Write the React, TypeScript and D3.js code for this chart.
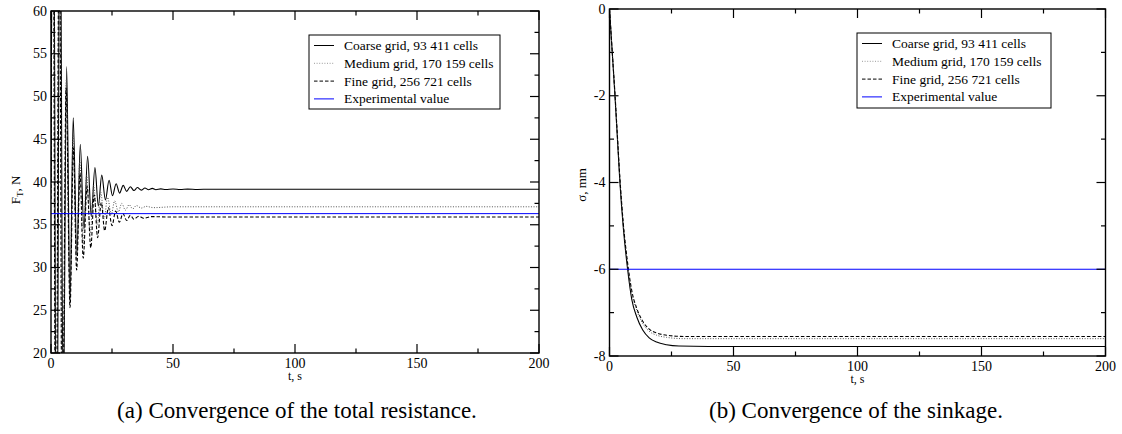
import React from "react";
import * as d3 from "d3";

// ---------- DATA ----------
type P = [number, number];

// (a) total resistance F_T [N] vs t [s]
const resCoarse: P[] = [
  [0, 40], [0.9, 90], [2.3, -5], [3.7, 80], [5.0, 12], [6.4, 53.5], [7.8, 26], [9.1, 47.5],
  [10.6, 31.5], [12.0, 44.4], [13.5, 34.5], [15.0, 43.0], [16.5, 36.0], [18.0, 41.7],
  [19.4, 37.2], [20.8, 40.8], [22.3, 37.9], [23.8, 40.2], [25.2, 38.4], [26.7, 39.8],
  [28.1, 38.7], [29.6, 39.6], [31.0, 38.9], [32.5, 39.45], [34.0, 39.0], [35.4, 39.35],
  [37.0, 39.05], [38.5, 39.3], [40.0, 39.1], [41.5, 39.25], [43.0, 39.1], [45.0, 39.2],
  [47.0, 39.12], [50.0, 39.18], [53.0, 39.12], [56.0, 39.17], [60.0, 39.13], [65.0, 39.16],
  [70.0, 39.15], [200, 39.15],
];
const resMedium: P[] = [
  [0, 39], [0.8, 88], [2.1, -3], [3.5, 78], [4.8, 8], [6.3, 52], [7.7, 27], [9.1, 45.5],
  [10.4, 31], [11.8, 42.5], [13.2, 32.7], [14.6, 40.8], [16.1, 34], [17.5, 39.6],
  [19.0, 35], [20.4, 38.8], [21.8, 35.7], [23.2, 38.2], [24.7, 36.2], [26.1, 37.8],
  [27.6, 36.5], [29.0, 37.5], [30.5, 36.7], [32.0, 37.35], [33.5, 36.85], [35.0, 37.25],
  [37.0, 36.95], [39.0, 37.15], [42.0, 37.0], [50.0, 37.1], [200, 37.1],
];
const resFine: P[] = [
  [0, 38], [0.7, 85], [2.0, 0], [3.4, 75], [4.6, 5], [6.2, 51], [7.8, 25.3], [9.2, 44],
  [10.5, 29.7], [11.9, 41], [13.2, 31.1], [14.8, 39.5], [16.3, 32.3], [17.7, 38.5],
  [19.1, 33.5], [20.6, 37.6], [22.0, 34.3], [23.5, 37.0], [25.0, 34.9], [26.5, 36.6],
  [28.0, 35.3], [29.5, 36.3], [31.0, 35.5], [32.5, 36.1], [34.0, 35.65], [36.0, 36.0],
  [38.0, 35.75], [41.0, 35.95], [50.0, 35.9], [200, 35.9],
];
const resExperimental = 36.3;

// (b) sinkage sigma [mm] vs t [s]
const sinkCoarse: P[] = [
  [0, 0], [1, -0.9], [2.2, -2], [3.2, -3], [4.2, -4], [5.5, -5], [7.3, -6], [9, -6.7],
  [11, -7.1], [13.4, -7.4], [16, -7.58], [19, -7.68], [23, -7.74], [28, -7.77], [40, -7.78], [200, -7.78],
];
const sinkMedium: P[] = [
  [0, 0], [1, -0.9], [2.2, -1.97], [3.2, -2.95], [4.2, -3.93], [5.5, -4.92], [7.3, -5.9], [9, -6.55],
  [11, -6.95], [13.4, -7.25], [16, -7.43], [19, -7.52], [23, -7.57], [30, -7.6], [200, -7.6],
];
const sinkFine: P[] = [
  [0, 0], [1, -0.9], [2.2, -1.95], [3.2, -2.93], [4.2, -3.9], [5.5, -4.9], [7.3, -5.85], [9, -6.5],
  [11, -6.9], [13.4, -7.2], [16, -7.38], [19, -7.47], [23, -7.52], [30, -7.55], [200, -7.55],
];
const sinkExperimental = -6.0;

const legendLabels = [
  "Coarse grid, 93 411 cells",
  "Medium grid, 170 159 cells",
  "Fine grid, 256 721 cells",
  "Experimental value",
];
const xMajorTicks = [0, 50, 100, 150, 200];
const xMinorTicks = [25, 75, 125, 175];
const resMajorTicks = [20, 25, 30, 35, 40, 45, 50, 55, 60];
const resMinorTicks = [22.5, 27.5, 32.5, 37.5, 42.5, 47.5, 52.5, 57.5];
const sinkMajorTicks = [-8, -6, -4, -2, 0];
const sinkMinorTicks = [-7, -5, -3, -1];

// ---------- STYLE ----------
const FONT = "Liberation Serif";
const seriesStyles = [
  { stroke: "#000", dash: undefined as string | undefined, width: 1.1 },
  { stroke: "#555", dash: "1,1.6", width: 1 },
  { stroke: "#000", dash: "3.5,2", width: 1.1 },
  { stroke: "#0000ff", dash: undefined as string | undefined, width: 1 },
];

type PanelProps = {
  id: string;
  x0: number; x1: number; yTop: number; yBot: number;
  yDomain: [number, number];
  yMajor: number[]; yMinor: number[];
  series: P[][];
  expValue: number;
  yLabel: React.ReactNode;
  yLabelX: number; yLabelY: number;
  legend: { x: number; y: number; w: number; h: number };
  caption: string;
  captionX: number;
};

function Panel(p: PanelProps) {
  const x = d3.scaleLinear().domain([0, 200]).range([p.x0, p.x1]);
  const y = d3.scaleLinear().domain(p.yDomain).range([p.yBot, p.yTop]);
  const line = d3
    .line<P>()
    .x((d) => x(d[0]))
    .y((d) => y(d[1]))
    .curve(d3.curveMonotoneX);
  const MAJ = 9;
  const MIN = 4.5;
  const rowH = 17.8;
  const tf = { fontFamily: FONT };
  return (
    <g>
      <defs>
        <clipPath id={p.id + "clip"}>
          <rect x={p.x0} y={p.yTop} width={p.x1 - p.x0} height={p.yBot - p.yTop} />
        </clipPath>
      </defs>
      <g clipPath={`url(#${p.id}clip)`}>
        {p.series.map((s, i) => (
          <path
            key={i}
            d={line(s) || ""}
            fill="none"
            stroke={seriesStyles[i].stroke}
            strokeWidth={seriesStyles[i].width}
            strokeDasharray={seriesStyles[i].dash}
          />
        ))}
        <line
          x1={p.x0}
          x2={p.x1}
          y1={y(p.expValue)}
          y2={y(p.expValue)}
          stroke={seriesStyles[3].stroke}
          strokeWidth={seriesStyles[3].width}
        />
      </g>
      {/* frame */}
      <rect x={p.x0} y={p.yTop} width={p.x1 - p.x0} height={p.yBot - p.yTop} fill="none" stroke="#000" strokeWidth={1.4} />
      {/* x ticks */}
      {xMajorTicks.map((t) => (
        <g key={"xm" + t}>
          <line x1={x(t)} x2={x(t)} y1={p.yBot} y2={p.yBot - MAJ} stroke="#000" strokeWidth={1.2} />
          <line x1={x(t)} x2={x(t)} y1={p.yTop} y2={p.yTop + MAJ} stroke="#000" strokeWidth={1.2} />
          <text x={x(t)} y={p.yBot + 15} textAnchor="middle" fontSize={14} style={tf}>
            {t}
          </text>
        </g>
      ))}
      {xMinorTicks.map((t) => (
        <g key={"xn" + t}>
          <line x1={x(t)} x2={x(t)} y1={p.yBot} y2={p.yBot - MIN} stroke="#000" strokeWidth={1.2} />
          <line x1={x(t)} x2={x(t)} y1={p.yTop} y2={p.yTop + MIN} stroke="#000" strokeWidth={1.2} />
        </g>
      ))}
      {/* y ticks */}
      {p.yMajor.map((t) => (
        <g key={"ym" + t}>
          <line x1={p.x0} x2={p.x0 + MAJ} y1={y(t)} y2={y(t)} stroke="#000" strokeWidth={1.2} />
          <line x1={p.x1} x2={p.x1 - MAJ} y1={y(t)} y2={y(t)} stroke="#000" strokeWidth={1.2} />
          <text x={p.x0 - 4} y={y(t) + 4.5} textAnchor="end" fontSize={14} style={tf}>
            {t}
          </text>
        </g>
      ))}
      {p.yMinor.map((t) => (
        <g key={"yn" + t}>
          <line x1={p.x0} x2={p.x0 + MIN} y1={y(t)} y2={y(t)} stroke="#000" strokeWidth={1.2} />
          <line x1={p.x1} x2={p.x1 - MIN} y1={y(t)} y2={y(t)} stroke="#000" strokeWidth={1.2} />
        </g>
      ))}
      {/* axis titles */}
      <text x={(p.x0 + p.x1) / 2} y={p.yBot + 27} textAnchor="middle" fontSize={12} style={tf}>
        t, s
      </text>
      <text
        transform={`translate(${p.yLabelX},${p.yLabelY}) rotate(-90)`}
        textAnchor="middle"
        fontSize={13}
        style={tf}
      >
        {p.yLabel}
      </text>
      {/* legend */}
      <rect x={p.legend.x} y={p.legend.y} width={p.legend.w} height={p.legend.h} fill="#fff" stroke="#000" strokeWidth={1} />
      {legendLabels.map((lab, i) => {
        const cy = p.legend.y + 10.5 + i * rowH;
        return (
          <g key={lab}>
            <line
              x1={p.legend.x + 5}
              x2={p.legend.x + 25}
              y1={cy}
              y2={cy}
              stroke={i === 1 ? "#999" : seriesStyles[i].stroke}
              strokeWidth={1}
              strokeDasharray={seriesStyles[i].dash}
            />
            <text x={p.legend.x + 35} y={cy + 4.5} fontSize={13.5} style={tf}>
              {lab}
            </text>
          </g>
        );
      })}
      {/* caption */}
      <text x={p.captionX} y={418} textAnchor="middle" fontSize={23} style={tf}>
        {p.caption}
      </text>
    </g>
  );
}

export default function App() {
  return (
    <svg
      width={1122}
      height={434}
      style={{ position: "absolute", left: 0, top: 0, background: "#fff" }}
    >
      <rect width={1122} height={434} fill="#fff" />
      <Panel
        id="a"
        x0={51}
        x1={539}
        yTop={11}
        yBot={353}
        yDomain={[20, 60]}
        yMajor={resMajorTicks}
        yMinor={resMinorTicks}
        series={[resCoarse, resMedium, resFine]}
        expValue={resExperimental}
        yLabel={
          <>
            F<tspan fontSize={9} dy={3}>T</tspan>
            <tspan dy={-3}>, N</tspan>
          </>
        }
        yLabelX={20}
        yLabelY={190}
        legend={{ x: 309, y: 35, w: 191, h: 74 }}
        caption="(a) Convergence of the total resistance."
        captionX={297}
      />
      <Panel
        id="b"
        x0={609.5}
        x1={1105.5}
        yTop={9}
        yBot={356}
        yDomain={[-8, 0]}
        yMajor={sinkMajorTicks}
        yMinor={sinkMinorTicks}
        series={[sinkCoarse, sinkMedium, sinkFine]}
        expValue={sinkExperimental}
        yLabel={<>σ, mm</>}
        yLabelX={586}
        yLabelY={185}
        legend={{ x: 857, y: 33, w: 194, h: 75 }}
        caption="(b) Convergence of the sinkage."
        captionX={856}
      />
    </svg>
  );
}
